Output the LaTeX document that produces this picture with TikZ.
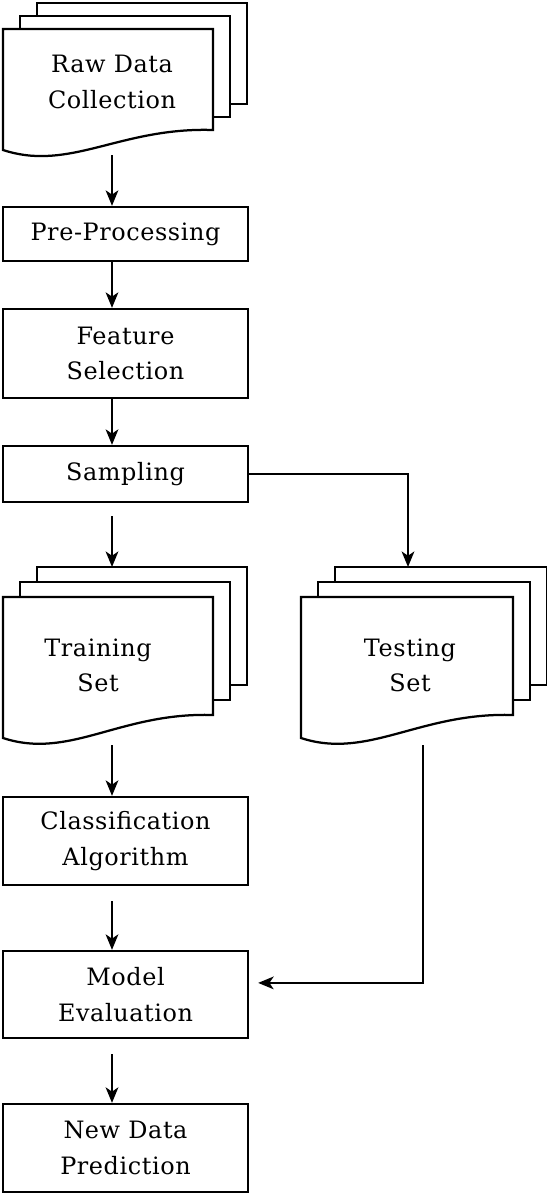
\documentclass[tikz,border=0pt]{standalone}
\usepackage{fontspec}
\setmainfont{DejaVu Serif}[LetterSpace=2.5]
\usetikzlibrary{arrows.meta}

\tikzset{
  sheet/.style={draw,fill=white,line width=1.6pt,line join=miter},
  box/.style={draw,line width=1.6pt,minimum width=6.125cm,align=center,inner sep=0pt},
  stack/.style={minimum width=6.1cm,inner sep=0pt,outer sep=0pt},
  lbl/.style={align=center,inner sep=0pt},
  arr/.style={-{Stealth[length=11pt,width=9pt,inset=3pt]},line width=1.5pt},
}

\begin{document}
\begin{tikzpicture}[x=0.025cm,y=-0.025cm,every node/.style={font=\fontsize{17}{25}\selectfont}]
\useasboundingbox (0,0) rectangle (546,1194);

% raw data stack
\foreach \k in {2,1}
  \draw[sheet] (3+17*\k,29-13*\k) rectangle ++(210,101);
\draw[sheet] (3,29) -- (213,29) -- (213,130) .. controls (120,127) and (70,172) .. (3,150) -- cycle;
\node[stack,minimum height=3.8cm] (raw) at (125,79) {};
\node[lbl] (raw-txt) at (112,82) {Raw Data\\Collection};

% left column
\coordinate (col) at (112,0);
\node[box,minimum height=1.35cm] (pre) at (125.5,234) {Pre-Processing};
\node[box,minimum height=2.225cm] (feat) at (125.5,353.5) {Feature\\Selection};
\node[box,minimum height=1.4cm] (samp) at (125.5,474) {Sampling};

% training / testing stacks
\foreach \k in {2,1}
  \draw[sheet] (3+17*\k,597-15*\k) rectangle ++(210,118);
\draw[sheet] (3,597) -- (213,597) -- (213,715) .. controls (120,712) and (70,760) .. (3,738) -- cycle;
\node[stack,minimum height=4.45cm] (train) at (125,656) {};
\node[lbl] (train-txt) at (98,665) {Training\\Set};

\foreach \k in {2,1}
  \draw[sheet] (301+17*\k,597-15*\k) rectangle ++(212,118);
\draw[sheet] (301,597) -- (513,597) -- (513,715) .. controls (420,712) and (368,760) .. (301,738) -- cycle;
\node[stack,minimum height=4.45cm] (test) at (423,656) {};
\node[lbl] (test-txt) at (410,665) {Testing\\Set};

\node[box,minimum height=2.2cm] (clas) at (125.5,841) {Classification\\Algorithm};
\node[box,minimum height=2.175cm] (model) at (125.5,994.5) {Model\\Evaluation};
\node[box,minimum height=2.2cm] (pred) at (125.5,1148) {New Data\\Prediction};

% arrows
\draw[arr] (raw.south -| col) -- (pre.north -| col);
\draw[arr] (pre.south -| col) -- (feat.north -| col);
\draw[arr] (feat.south -| col) -- (samp.north -| col);
\draw[arr,shorten <=0.325cm] (samp.south -| col) -- (train.north -| col);
\draw[arr] (samp.east) -| ([xshift=-0.375cm]test.north);
\draw[arr] (train.south -| col) -- (clas.north -| col);
\draw[arr,shorten <=0.375cm] (clas.south -| col) -- (model.north -| col);
\draw[arr,shorten <=0.375cm] (model.south -| col) -- (pred.north -| col);
\draw[arr,shorten >=0.225cm] (test.south) |- ([yshift=0.29cm]model.east);

\end{tikzpicture}
\end{document}
